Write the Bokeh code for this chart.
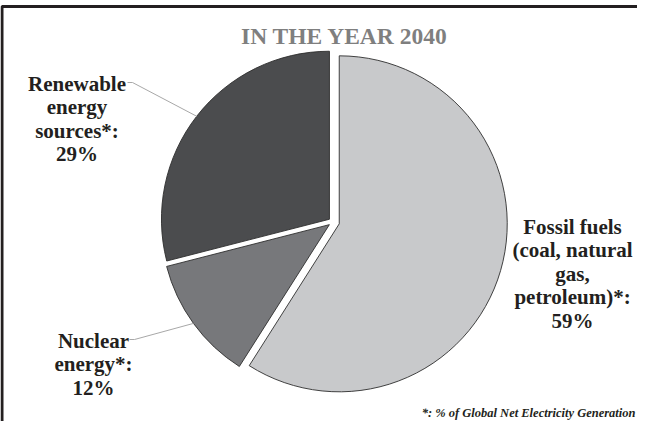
import numpy as np
from bokeh.plotting import figure
from bokeh.models import Range1d, ColumnDataSource
from bokeh.core.properties import value
from bokeh.embed import file_html
from bokeh.resources import INLINE

# ---------------- data ----------------
title_text = "IN THE YEAR 2040"
categories = ["Fossil fuels\n(coal, natural\ngas,\npetroleum)*:",
              "Nuclear\nenergy*:",
              "Renewable\nenergy\nsources*:"]
shares = [59, 12, 29]
footnote_text = "*: % of Global Net Electricity Generation"

# ---------------- style ----------------
W, H = 637, 421
TOP = 8                      # page y of the figure top
colors = ["#c8c9cb", "#77787b", "#4b4c4e"]
explode = [6.5, 4.5, 4.5]
center_page = (340.5, 229.5)
radius = 168
label_anchor = [(580, 234), (101, 348), (84.5, 91)]   # first baseline, page px
label_leader = [False, True, True]
leader_start = [None, (137, 347), (135, 90)]
line_step = 23.6
serif = value("Liberation Serif")
ink = "#231f20"
BOTTOM = TOP + H


def py(y):
    # page y (down) -> data y (up)
    return BOTTOM - y


p = figure(width=W, height=H, output_backend="svg", toolbar_location=None,
           x_range=Range1d(8, 8 + W), y_range=Range1d(0, H),
           min_border=0, outline_line_color=None, background_fill_color="white",
           border_fill_color="white")
p.axis.visible = False
p.grid.visible = False

# frame (left and top edges visible in the reference)
p.line(x=[9.5, 9.5, 8 + W], y=[py(BOTTOM + 5), py(14), py(14)],
       line_color=ink, line_width=3)

# pie
total = float(sum(shares))
cum = np.concatenate([[0.0], np.cumsum(shares)]) / total * 360.0
theta0 = cum[:-1]
theta1 = cum[1:]
mid = (theta0 + theta1) / 2.0
mid_r = np.radians(mid)
cx0, cy0 = center_page[0], py(center_page[1])
ex = np.array(explode)
wx = cx0 + ex * np.sin(mid_r)
wy = cy0 + ex * np.cos(mid_r)

src = ColumnDataSource(dict(
    x=wx, y=wy,
    start=np.radians(90 - theta0), end=np.radians(90 - theta1),
    color=colors,
))
p.wedge(x="x", y="y", radius=radius, start_angle="start", end_angle="end",
        direction="clock", fill_color="color", line_color="#2e2e2e",
        line_width=0.9, source=src)

# leader lines: from label to the slice edge at its mid angle
for i in range(len(shares)):
    if not label_leader[i]:
        continue
    ex_pt = wx[i] + radius * np.sin(mid_r[i])
    ey_pt = wy[i] + radius * np.cos(mid_r[i])
    sx, sy = leader_start[i]
    p.line(x=[sx, sx + 5, ex_pt], y=[py(sy), py(sy), ey_pt],
           line_color="#a8a8a8", line_width=1)

# labels
lx, ly, lt = [], [], []
for i, (cat, s) in enumerate(zip(categories, shares)):
    lines = cat.split("\n") + [f"{s}%"]
    ax, ay = label_anchor[i]
    for k, t in enumerate(lines):
        lx.append(ax)
        ly.append(py(ay + k * line_step))
        lt.append(t)
p.text(x=lx, y=ly, text=lt, text_font=serif, text_font_style="bold",
       text_font_size="21px", text_color=ink, text_align="center",
       text_baseline="alphabetic")

# title
p.text(x=[352], y=[py(43)], text=[title_text], text_font=serif,
       text_font_style="bold", text_font_size="23.5px", text_color="#7f7f7f",
       text_align="center", text_baseline="alphabetic")

# footnote
p.text(x=[643], y=[py(420)], text=[footnote_text], text_font=serif,
       text_font_style="bold italic", text_font_size="12.5px", text_color=ink,
       text_align="right", text_baseline="alphabetic")

open("out.html", "w").write(file_html(p, INLINE))
